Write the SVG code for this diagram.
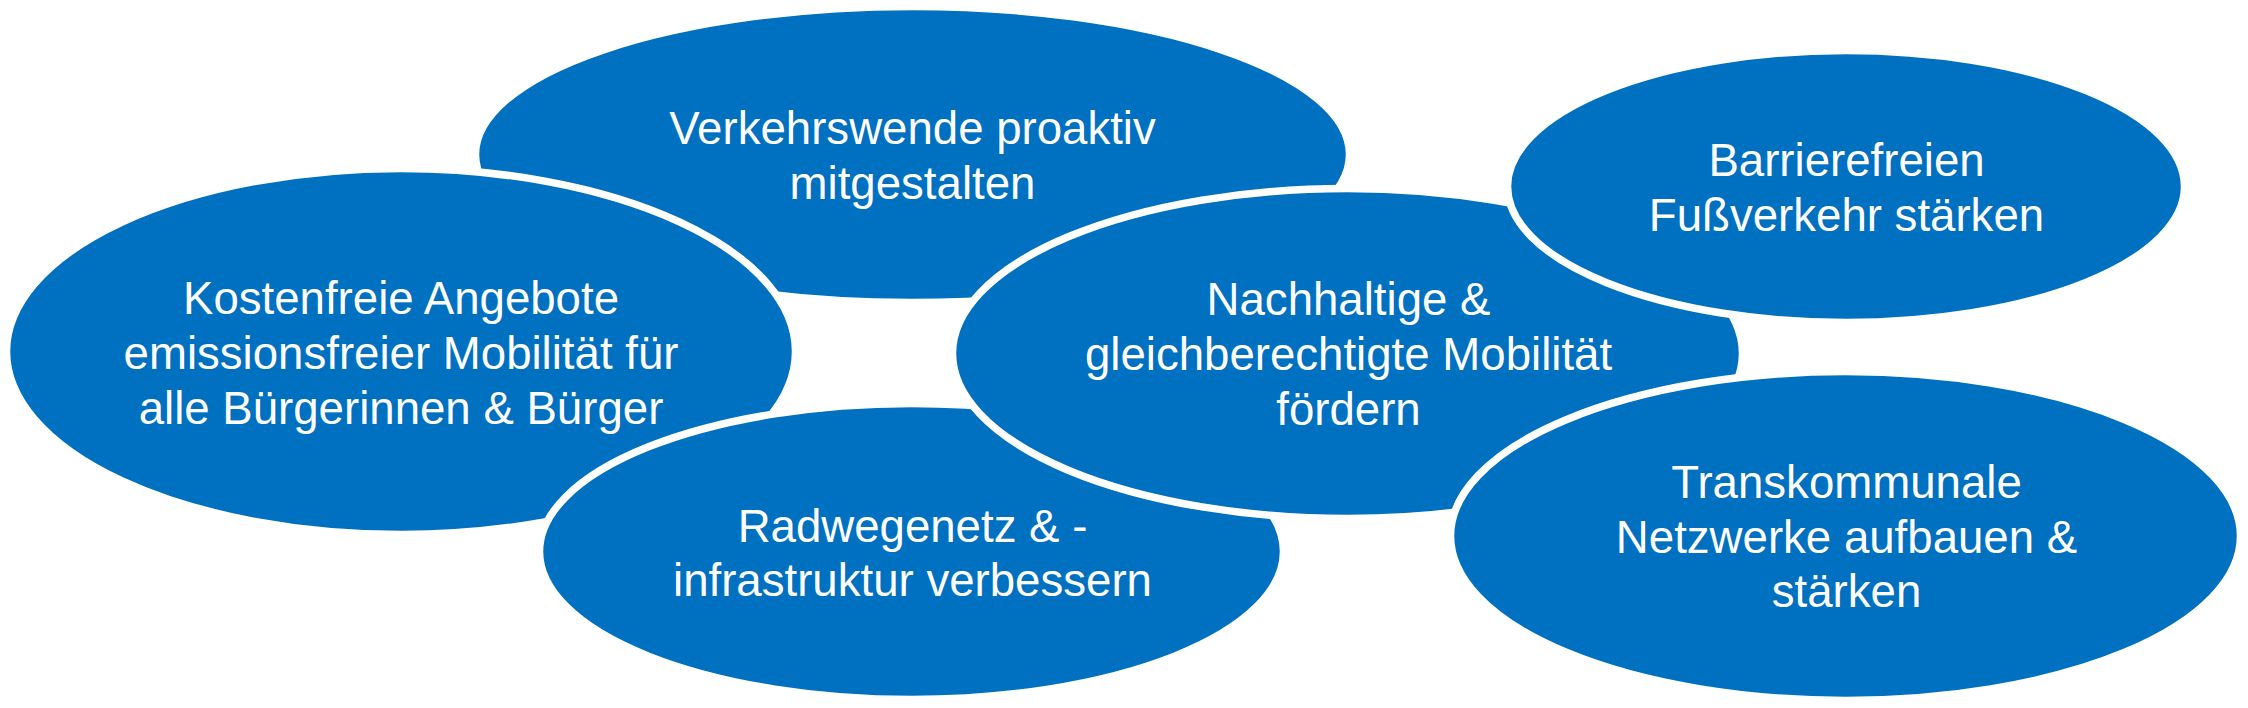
<svg xmlns="http://www.w3.org/2000/svg" width="2248" height="708" viewBox="0 0 2248 708">
  <style>
    .bubble { fill: #0070C0; stroke: #FFFFFF; stroke-width: 7.5; }
    .label { font-family: "Liberation Sans", Arial, sans-serif; font-size: 45.6px; fill: #FFFFFF; text-anchor: middle; }
  </style>
  <rect width="2248" height="708" fill="#FFFFFF"/>
  <g id="node-verkehrswende">
    <ellipse class="bubble" cx="912.5" cy="154.5" rx="437" ry="148"/>
    <text class="label" x="912.5" y="144">Verkehrswende proaktiv</text>
    <text class="label" x="912.5" y="199">mitgestalten</text>
  </g>
  <g id="node-kostenfreie">
    <ellipse class="bubble" cx="401" cy="351.5" rx="394.5" ry="183"/>
    <text class="label" x="401" y="314">Kostenfreie Angebote</text>
    <text class="label" x="401" y="369">emissionsfreier Mobilität für</text>
    <text class="label" x="401" y="424">alle Bürgerinnen &amp; Bürger</text>
  </g>
  <g id="node-radwegenetz">
    <ellipse class="bubble" cx="911.5" cy="551.5" rx="372" ry="148"/>
    <text class="label" x="912.5" y="541.5">Radwegenetz &amp; -</text>
    <text class="label" x="912.5" y="596">infrastruktur verbessern</text>
  </g>
  <g id="node-nachhaltige">
    <ellipse class="bubble" cx="1347.5" cy="353.5" rx="395" ry="165"/>
    <text class="label" x="1348.5" y="315">Nachhaltige &amp;</text>
    <text class="label" x="1348.5" y="369.5">gleichberechtigte Mobilität</text>
    <text class="label" x="1348.5" y="425">fördern</text>
  </g>
  <g id="node-barrierefreien">
    <ellipse class="bubble" cx="1846" cy="186.5" rx="338.5" ry="136"/>
    <text class="label" x="1846.5" y="176">Barrierefreien</text>
    <text class="label" x="1846.5" y="230.5">Fußverkehr stärken</text>
  </g>
  <g id="node-transkommunale">
    <ellipse class="bubble" cx="1845.5" cy="536" rx="395" ry="164.5"/>
    <text class="label" x="1846.5" y="498">Transkommunale</text>
    <text class="label" x="1846.5" y="552.5">Netzwerke aufbauen &amp;</text>
    <text class="label" x="1846.5" y="607">stärken</text>
  </g>
  <g id="connectors"/>
</svg>
